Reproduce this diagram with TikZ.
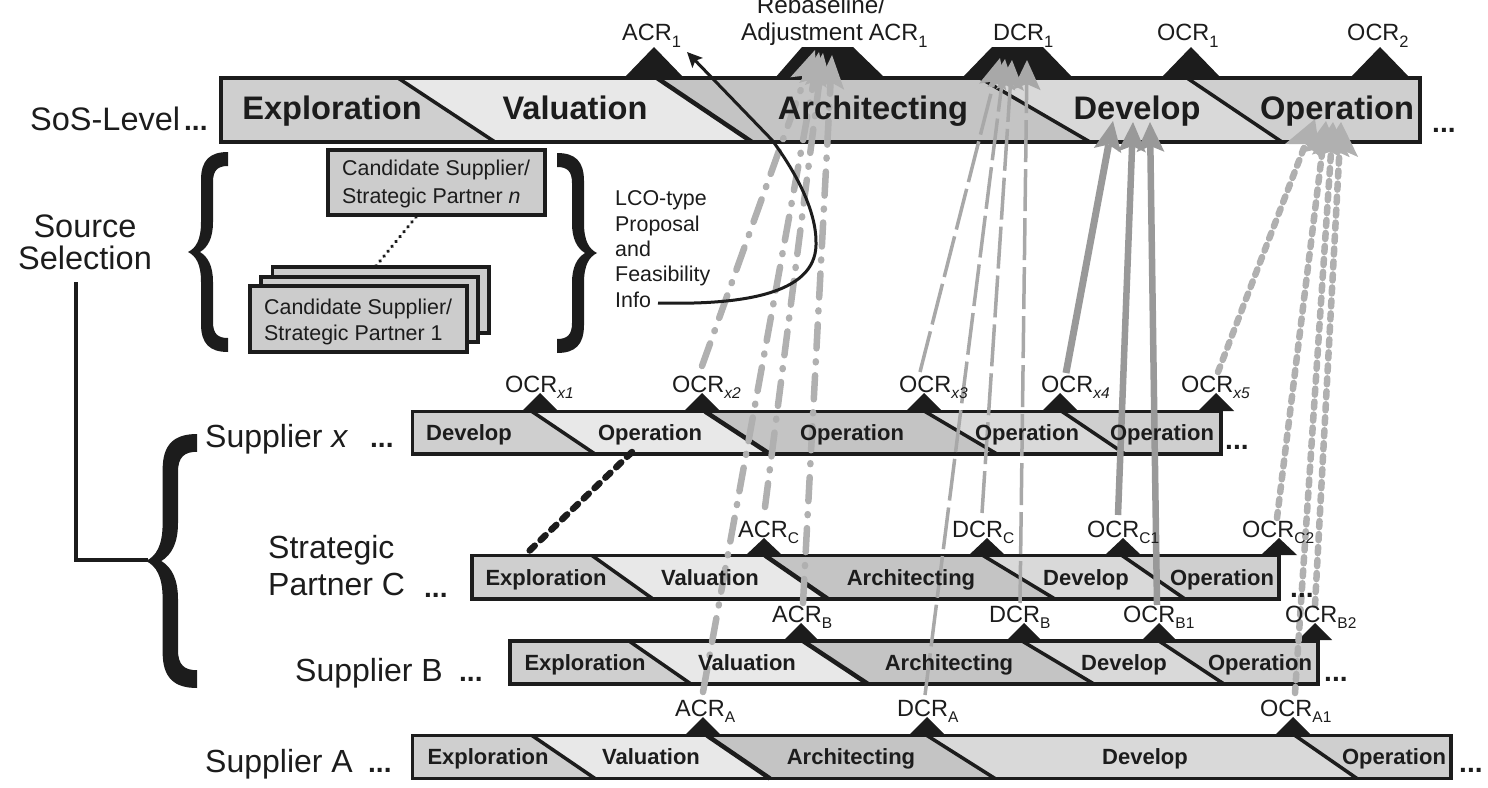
\documentclass[tikz,border=0pt]{standalone}
\usepackage{fontspec}
\setmainfont{Liberation Sans}
\usetikzlibrary{arrows.meta}
\definecolor{cExpl}{gray}{0.81}
\definecolor{cVal}{gray}{0.91}
\definecolor{cArch}{gray}{0.77}
\definecolor{cDev}{gray}{0.85}
\definecolor{cOp}{gray}{0.81}
\definecolor{ink}{gray}{0.11}
\definecolor{gA}{gray}{0.69}
\definecolor{gB}{gray}{0.66}
\definecolor{gS}{gray}{0.60}
\newcommand{\fs}[1]{\fontsize{#1}{#1}\selectfont}
\newcommand{\phases}[8]{%
  \fill[cExpl] (\barL,\barT) -- (#1,\barT) -- (#2,\barB) -- (\barL,\barB) -- cycle;
  \fill[cVal] (#1,\barT) -- (#3,\barT) -- (#4,\barB) -- (#2,\barB) -- cycle;
  \fill[cArch] (#3,\barT) -- (#5,\barT) -- (#6,\barB) -- (#4,\barB) -- cycle;
  \fill[cDev] (#5,\barT) -- (#7,\barT) -- (#8,\barB) -- (#6,\barB) -- cycle;
  \fill[cOp] (#7,\barT) -- (\barR,\barT) -- (\barR,\barB) -- (#8,\barB) -- cycle;
  \draw[diag] (#1,\barT) -- (#2,\barB);
  \draw[diag,line width=4.5pt] (#3,\barT) -- (#4,\barB);
  \draw[diag] (#5,\barT) -- (#6,\barB);
  \draw[diag] (#7,\barT) -- (#8,\barB);
  \draw[frame] (\barL,\barT) rectangle (\barR,\barB);
}
\newcommand{\peak}[4]{\fill[ink] (#1,#2) -- (#1+#4,#3) -- (#1-#4,#3) -- cycle;}
\newcommand{\lbl}[5]{\node[mlabel] (#1) at (#2,#3) {\fs{23.5}#4\raisebox{-6.5pt}{\fs{15.5}#5}};}
\newcommand{\toplbl}[5]{\node[mlabel] (#1) at (#2,#3) {\fs{23.5}#4\raisebox{-7pt}{\fs{16.5}#5}};}
\newcommand{\bigbrace}[4]{%
  \begin{scope}[shift={(#1,#2)},xscale=#3,yscale=#4]
  \fill[ink] (40,-100) .. controls (22,-100) and (13,-92) .. (13,-72)
    -- (13,-30) .. controls (13,-12) and (8,-4) .. (0,0)
    .. controls (8,4) and (13,12) .. (13,30) -- (13,72)
    .. controls (13,92) and (22,100) .. (40,100) -- (40,86)
    .. controls (30,86) and (25,82) .. (25,70) -- (25,30)
    .. controls (25,14) and (20,5) .. (12,0)
    .. controls (20,-5) and (25,-14) .. (25,-30) -- (25,-70)
    .. controls (25,-82) and (30,-86) .. (40,-86) -- cycle;
  \end{scope}%
}
\tikzset{
  diag/.style={draw=ink,line width=3.5pt},
  frame/.style={draw=ink,line width=3.5pt},
  mlabel/.style={anchor=base west,inner sep=0pt,text=ink},
  plain/.style={anchor=base west,inner sep=0pt,text=ink,font=\fs{32}},
  dots/.style={anchor=base west,inner sep=0pt,text=ink,font=\fs{28}\bfseries},
  bigphase/.style={anchor=base,inner sep=0pt,text=ink,font=\fs{32.6}\bfseries},
  smallphase/.style={anchor=base,inner sep=0pt,text=ink,font=\fs{22}\bfseries},
  cand/.style={draw=ink,line width=3.5pt,fill=black!20},
  candtext/.style={anchor=base west,inner sep=0pt,text=ink,font=\fs{21.4}},
  acrflow/.style={draw=gA,line width=6.5pt,line cap=round,dash pattern=on 24pt off 13pt on 1pt off 13pt,
    -{Stealth[length=34pt,width=28pt,inset=7pt,fill=gA,line width=0pt]}},
  dcrflow/.style={draw=gB,line width=3.5pt,dash pattern=on 42pt off 7pt,
    -{Stealth[length=30pt,width=28pt,inset=6pt,fill=gB,line width=0pt]}},
  devflow/.style={draw=gS,line width=6.5pt,
    -{Stealth[length=30pt,width=28pt,inset=6pt,fill=gS,line width=0pt]}},
  opflow/.style={draw=gA,line width=6.5pt,line cap=round,dash pattern=on 6pt off 7pt,
    -{Stealth[length=34pt,width=38pt,inset=7pt,fill=gA,line width=0pt]}},
}
\begin{document}
\begin{tikzpicture}[x=1pt,y=-1pt]
\useasboundingbox (0,0) rectangle (1488,787);
% bars
\def\barT{78}\def\barB{142}\def\barL{221}\def\barR{1420}
\phases{398}{495}{657}{752}{980}{1090}{1187}{1282}
\def\barT{411.5}\def\barB{454}\def\barL{412.5}\def\barR{1221}
\phases{532}{595}{705}{770}{925}{997}{1062}{1125}
\def\barT{555.5}\def\barB{599}\def\barL{472}\def\barR{1279}
\phases{592}{653}{765}{828}{983}{1055}{1122}{1185}
\def\barT{641}\def\barB{684}\def\barL{510}\def\barR{1318}
\phases{629}{691}{803}{868}{1022}{1094}{1159}{1224}
\def\barT{735.5}\def\barB{778.5}\def\barL{412.5}\def\barR{1451}
\phases{532}{595}{707}{770}{927}{995}{1295}{1357}
% milestones
\peak{654}{47}{78}{30}
\fill[ink] (802,47) -- (853,47) -- (885,78) -- (775,78) -- cycle;
\fill[ink] (992,47) -- (1043,47) -- (1073,78) -- (962,78) -- cycle;
\peak{1191}{47}{78}{30}
\peak{1380}{47}{78}{30}
\peak{540}{393}{411}{18}
\peak{702}{393}{411}{18}
\peak{924}{393}{411}{18}
\peak{1060}{393}{411}{18}
\peak{1216}{393}{411}{18}
\peak{764}{538}{555}{18}
\peak{987}{538}{555}{18}
\peak{1123}{538}{555}{18}
\peak{1279}{538}{555}{18}
\peak{801}{623}{640}{17}
\peak{1024}{623}{640}{17}
\peak{1159}{623}{640}{17}
\peak{1315}{623}{640}{17}
\peak{703}{717}{735}{18}
\peak{927}{717}{735}{18}
\peak{1293}{717}{735}{18}
% source selection boxes
\draw[cand] (272.5,267) rectangle (489,333);
\draw[cand] (261,277) rectangle (478,342);
\draw[cand] (250,286) rectangle (467,352);
\draw[cand] (328,150) rectangle (545,215);
\coordinate (dotsA) at (416,217);
\coordinate (dotsB) at (376,266);
\draw[ink,line width=3.8pt,line cap=round,dash pattern=on 0.1pt off 6.2pt] (dotsA) -- (dotsB);
\bigbrace{188}{252}{1}{1}
\bigbrace{597}{253}{-1}{1}
\bigbrace{146}{561}{1.28}{1.27}
% source selection line
\coordinate (srcTop) at (76,282);
\coordinate (srcCorner) at (76,560);
\coordinate (srcEnd) at (148,560);
\draw[ink,line width=3.5pt] (srcTop) -- (srcCorner) -- (srcEnd);
% partner link
\coordinate (linkX) at (632,452);
\coordinate (linkC) at (524,556);
\draw[ink,line width=6.5pt,line cap=round,dash pattern=on 7pt off 8pt] (linkX) -- (linkC);
% flow coordinates
\coordinate (fOx2) at (702,366);  \coordinate (tOx2) at (815,50);
\coordinate (fAa) at (703,692);   \coordinate (tAa) at (819,52);
\coordinate (fAc) at (765,507);   \coordinate (tAc) at (823,53);
\coordinate (fAb) at (803,603);   \coordinate (tAb) at (832,55);
\coordinate (fOx3) at (920,372);  \coordinate (tOx3) at (1000,58);
\coordinate (fDa) at (925,695);   \coordinate (tDa) at (1005,59);
\coordinate (fDc) at (982,513);   \coordinate (tDc) at (1012,60);
\coordinate (fDb) at (1020,603);  \coordinate (tDb) at (1027,60);
\coordinate (fOx4) at (1066,373); \coordinate (tOx4) at (1113,121);
\coordinate (fOc1) at (1118,515); \coordinate (tOc1) at (1133,122);
\coordinate (fOb1) at (1157,605); \coordinate (tOb1) at (1150,122);
\coordinate (fOx5) at (1218,372); \coordinate (tOx5) at (1315,119);
\coordinate (fOc2) at (1277,518); \coordinate (tOc2) at (1326,121);
\coordinate (fOa1) at (1295,693); \coordinate (tOa1) at (1333,122);
\coordinate (fOb2) at (1315,605); \coordinate (tOb2) at (1341,122);
\draw[acrflow] (fOx2) -- (tOx2);
\draw[acrflow] (fAa) -- (tAa);
\draw[acrflow] (fAc) -- (tAc);
\draw[acrflow] (fAb) -- (tAb);
\draw[dcrflow] (fOx3) -- (tOx3);
\draw[dcrflow] (fDa) -- (tDa);
\draw[dcrflow] (fDc) -- (tDc);
\draw[dcrflow] (fDb) -- (tDb);
\draw[devflow,line width=7pt] (fOx4) -- (tOx4);
\draw[devflow] (fOc1) -- (tOc1);
\draw[devflow] (fOb1) -- (tOb1);
\draw[opflow] (fOx5) -- (tOx5);
\draw[opflow] (fOc2) -- (tOc2);
\draw[opflow] (fOa1) -- (tOa1);
\draw[opflow] (fOb2) -- (tOb2);
% feasibility curve
\coordinate (infoEnd) at (658,303);
\coordinate (curveMid) at (816,245);
\coordinate (curveBend) at (772,140);
\coordinate (acrTip) at (687,52);
\draw[ink,line width=3pt,-{Stealth[length=15pt,width=14pt,inset=3pt]}] (infoEnd)
  .. controls (740,305) and (815,295) .. (curveMid)
  .. controls (817,215) and (800,178) .. (curveBend) -- (acrTip);
% phase labels
\node[bigphase] (sExp) at (332,119) {Exploration};
\node[bigphase] (sVal) at (575,119) {Valuation};
\node[bigphase] (sArc) at (873,119) {Architecting};
\node[bigphase] (sDev) at (1137,119) {Develop};
\node[bigphase] (sOpe) at (1337,119) {Operation};
\node[smallphase] (xDev) at (469,440) {Develop};
\node[smallphase] (xOpa) at (650,440) {Operation};
\node[smallphase] (xOpb) at (852,440) {Operation};
\node[smallphase] (xOpc) at (1027,440) {Operation};
\node[smallphase] (xOpd) at (1162,440) {Operation};
\node[smallphase] (cExp) at (546,585) {Exploration};
\node[smallphase] (cVal) at (710,585) {Valuation};
\node[smallphase] (cArc) at (911,585) {Architecting};
\node[smallphase] (cDev) at (1086,585) {Develop};
\node[smallphase] (cOpe) at (1222,585) {Operation};
\node[smallphase] (bExp) at (585,670) {Exploration};
\node[smallphase] (bVal) at (747,670) {Valuation};
\node[smallphase] (bArc) at (949,670) {Architecting};
\node[smallphase] (bDev) at (1124,670) {Develop};
\node[smallphase] (bOpe) at (1260,670) {Operation};
\node[smallphase] (aExp) at (488,764) {Exploration};
\node[smallphase] (aVal) at (651,764) {Valuation};
\node[smallphase] (aArc) at (851,764) {Architecting};
\node[smallphase] (aDev) at (1145,764) {Develop};
\node[smallphase] (aOpe) at (1394,764) {Operation};
% milestone labels
\toplbl{lA}{622}{40}{ACR}{1}
\node[mlabel,anchor=base] (lReb) at (821,13) {\fs{24.3}Rebaseline/};
\node[mlabel] (lRa) at (741,40) {\fs{24.3}Adjustment\hspace{6pt}\fs{23.5}ACR\raisebox{-7pt}{\fs{16.5}1}};
\toplbl{lD}{993}{40}{DCR}{1}
\toplbl{lO1}{1157}{40}{OCR}{1}
\toplbl{lO2}{1347}{40}{OCR}{2}
\lbl{lx1}{505}{392}{OCR}{\itshape x1}
\lbl{lx2}{672}{392}{OCR}{\itshape x2}
\lbl{lx3}{899}{392}{OCR}{\itshape x3}
\lbl{lx4}{1041}{392}{OCR}{\itshape x4}
\lbl{lx5}{1181}{392}{OCR}{\itshape x5}
\lbl{lc1}{738}{537}{ACR}{C}
\lbl{lc2}{952}{537}{DCR}{C}
\lbl{lc3}{1087}{537}{OCR}{C1}
\lbl{lc4}{1242}{537}{OCR}{C2}
\lbl{lb1}{772}{622}{ACR}{B}
\lbl{lb2}{989}{622}{DCR}{B}
\lbl{lb3}{1123}{622}{OCR}{B1}
\lbl{lb4}{1285}{622}{OCR}{B2}
\lbl{la1}{675}{716}{ACR}{A}
\lbl{la2}{897}{716}{DCR}{A}
\lbl{la3}{1260}{716}{OCR}{A1}
% row labels
\node[plain,font=\fs{32.5}] (tSos) at (30,130) {SoS-Level};
\node[dots] (dSos) at (184,130) {...};
\node[plain,anchor=base,font=\fs{32.5}] (tSrc) at (85,237) {Source};
\node[plain,anchor=base,font=\fs{32.5}] (tSel) at (85,269) {Selection};
\node[plain] (tX) at (205,447) {Supplier \textit{x}};
\node[dots] (dX) at (370,447) {...};
\node[plain] (tC) at (268,558) {Strategic};
\node[plain] (tC2) at (268,595) {Partner C};
\node[dots] (dC) at (424,597) {...};
\node[plain] (tB) at (295,681) {Supplier B};
\node[dots] (dB) at (459,681) {...};
\node[plain] (tA) at (205,772) {Supplier A};
\node[dots] (dA) at (368,772) {...};
\node[dots] (eS) at (1432,132) {...};
\node[dots] (eX) at (1225,449) {...};
\node[dots] (eC) at (1290,597) {...};
\node[dots] (eB) at (1324,681) {...};
\node[dots] (eA) at (1459,772) {...};
% candidate text
\node[candtext] (nA) at (342,175) {Candidate Supplier/};
\node[candtext] (nB) at (342,203) {Strategic Partner \textit{n}};
\node[candtext] (oA) at (264,314) {Candidate Supplier/};
\node[candtext] (oB) at (264,340) {Strategic Partner 1};
\node[candtext] (i1) at (615,205) {LCO-type};
\node[candtext] (i2) at (615,231) {Proposal};
\node[candtext] (i3) at (615,256) {and};
\node[candtext] (i4) at (615,281) {Feasibility};
\node[candtext] (i5) at (615,307) {Info};
\end{tikzpicture}
\end{document}
